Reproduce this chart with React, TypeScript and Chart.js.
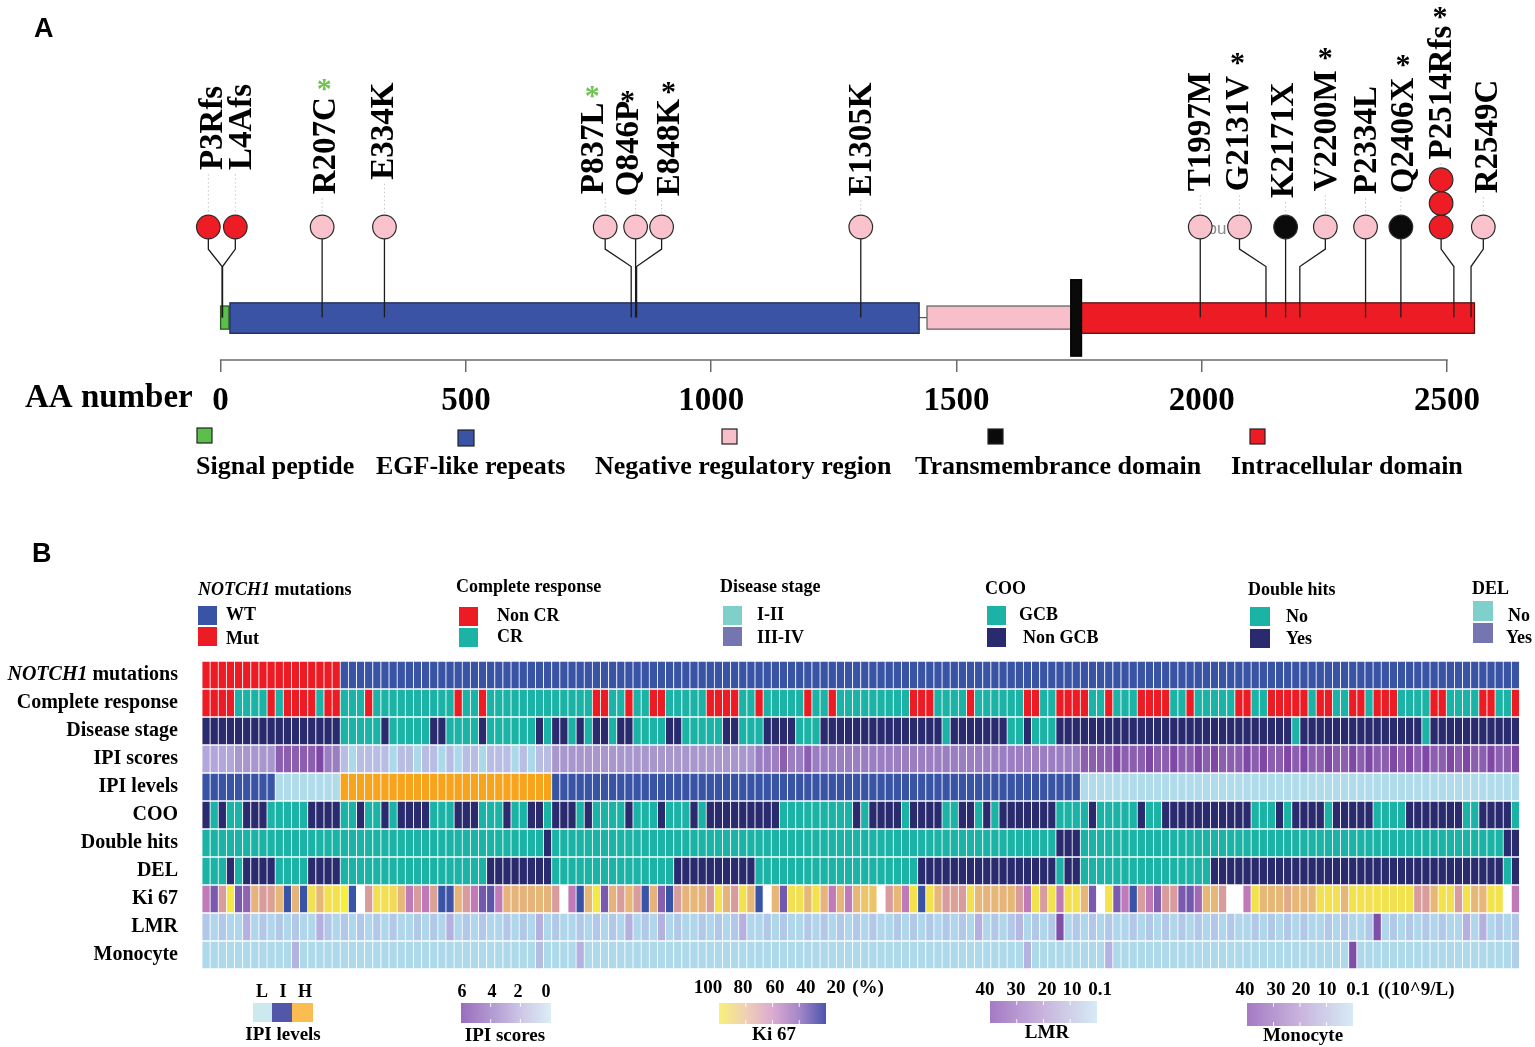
import React, { useEffect, useRef } from "react";
import { Chart, registerables } from "chart.js";

Chart.register(...registerables);

const SERIF = '"Liberation Serif", "Times New Roman", Times, serif';
const SANS = '"Liberation Sans", Arial, Helvetica, sans-serif';

/* ===================== Panel A data ===================== */
const mutationNames = ["P3Rfs", "L4Afs", "R207C", "E334K", "P837L", "Q846P", "E848K", "E1305K", "T1997M", "G2131V", "K2171X", "V2200M", "P2334L", "Q2406X", "P2514Rfs", "R2549C"];
const mutationAA = [3, 4, 207, 334, 837, 846, 848, 1305, 1997, 2131, 2171, 2200, 2334, 2406, 2514, 2549];
const mutationClass = ["frameshift", "frameshift", "missense", "missense", "missense", "missense", "missense", "missense", "missense", "missense", "nonsense", "missense", "missense", "nonsense", "frameshift", "missense"];
const mutationCount = [1, 1, 1, 1, 1, 1, 1, 1, 1, 1, 1, 1, 1, 1, 3, 1];
const mutationMark = ["", "", "green", "", "green", "black", "black", "", "", "black", "", "black", "", "black", "black", ""];

const domainNames = ["Signal peptide", "EGF-like repeats", "Negative regulatory region", "Transmembrance domain", "Intracellular domain"];
const domainStart = [0, 19, 1440, 1733, 1753];
const domainEnd = [17, 1424, 1736, 1755, 2556];
const axisTicks = [0, 500, 1000, 1500, 2000, 2500];

/* ---- Panel A layout (not data) ---- */
const circleAA = [-25, 30, 207, 334, 784, 846, 899, 1305, 1997, 2077, 2171, 2252, 2334, 2406, 2488, 2574];
const labelBase = [19.7, 19.7, 17.2, 18.7, 17.2, 17.0, 17.0, 17.0, 17.5, 17.5, 16.8, 17.5, 17.2, 17.3, 20.8, 17.3];
const labelShiftPx = [5, 7, 4, 0, -11, -6, 9, 2, 1, 0, -1, 2, 2, 4, 1, 5];
const starGapPx = [0, 0, 13, 0, 12, 5, 12, 0, 0, 18, 0, 17, 0, 18, 14, 0];
const CIRCLE_LEVEL = 13.8;
const STACK_STEP = 2.45;
const BEND_TOP = 11.5;
const BEND_LOW = 9.7;
const BAR_MID = 4.4;
const X_VIEW_MIN = -60;
const X_VIEW_MAX = 2600;
const AXIS_LEFT_PX = 220.6;
const AXIS_RIGHT_PX = 1447;
const domainTop = [5.6, 5.93, 5.6, 8.33, 5.93];
const domainBottom = [3.2, 2.77, 3.2, 0.4, 2.77];
const domainFill = ["#5cbf4b", "#3a53a5", "#f8bfcb", "#0a0a0a", "#ed1c24"];
const domainEdge = ["#2a5a20", "#1d2a5c", "#666666", "#000000", "#5a1010"];
const classColor: Record<string, string> = { frameshift: "#ee1d25", missense: "#f9c2cd", nonsense: "#0b0b0b" };

/* ===================== Panel B data ===================== */
const rowNames = ["NOTCH1 mutations", "Complete response", "Disease stage", "IPI scores", "IPI levels", "COO", "Double hits", "DEL", "Ki 67", "LMR", "Monocyte"];

const notch1Status = [
  "MMMMMMMMMM", "MMMMMMMWWW", "WWWWWWWWWW", "WWWWWWWWWW", "WWWWWWWWWW", "WWWWWWWWWW",
  "WWWWWWWWWW", "WWWWWWWWWW", "WWWWWWWWWW", "WWWWWWWWWW", "WWWWWWWWWW", "WWWWWWWWWW",
  "WWWWWWWWWW", "WWWWWWWWWW", "WWWWWWWWWW", "WWWWWWWWWW", "WW",
].join("").split("");

const completeResponse = [
  "RRRRCCCCRC", "RRRRCRRCCC", "RCCCCCCCCC", "CRCCRCCCCC", "CCCCCCCCRR", "CCRCCRRCCC",
  "CCRRRRCCRC", "CCCCRCCRCC", "CCCCCCCRRR", "CCCCRCCCCC", "CRRCCRRRRC", "CRCCCRRRRC",
  "CRCCCCCRRC", "CRRRRRCRRC", "CRRCRRRCCC", "CRRCCCCRRC", "CR",
].join("").split("");

const diseaseStage = [
  "NNNNNNNNNN", "NNNNNNNTTT", "TTNTTTTTNN", "TTTTNTTTTT", "TNTNNTNTNN", "TNNTTTTNNT",
  "TTTTNNTTTN", "NNNTTTNNNN", "NNNNNNNNNN", "NTNNNNNNNT", "TNTTTNNNNN", "NNNNNNNNNN",
  "NNNNNNNNNN", "NNNNTNNNNN", "NNNNNNNNNN", "TNNNNNNNNN", "NN",
].join("").split("");

const ipiScores = [
  "2222333335", "5555644101", "1110110110", "1011011101", "0113333333", "3333333333",
  "3333333344", "4544544444", "4444444444", "4444444444", "4444444455", "5565556556",
  "5565655565", "6556565565", "5656556565", "6556565565", "56",
].join("").split("").map(Number);

const ipiLevels = [
  "IIIIIIIIIL", "LLLLLLLHHH", "HHHHHHHHHH", "HHHHHHHHHH", "HHHIIIIIII", "IIIIIIIIII",
  "IIIIIIIIII", "IIIIIIIIII", "IIIIIIIIII", "IIIIIIIIII", "IIIIIIIILL", "LLLLLLLLLL",
  "LLLLLLLLLL", "LLLLLLLLLL", "LLLLLLLLLL", "LLLLLLLLLL", "LL",
].join("").split("");

const cellOfOrigin = [
  "NGNGGNNNGG", "GGGNNNNGGN", "GGNGNNNNGG", "GNNNGGGNGG", "NNGNNNGNGG", "GGNGGGNGGG",
  "NGNNNNNNNN", "NGGGGGGGGG", "NGNNNNGNNN", "NGGNNGNGNN", "NNNNNGGGGN", "GGGGGNGGNN",
  "NNNNNNNNNG", "GGNGNNNNGN", "NNNNGGGGNN", "NNNNNGGNNN", "NG",
].join("").split("");

const doubleHits = [
  "NNNNNNNNNN", "NNNNNNNNNN", "NNNNNNNNNN", "NNNNNNNNNN", "NNYNNNNNNN", "NNNNNNNNNN",
  "NNNNNNNNNN", "NNNNNNNNNN", "NNNNNNNNNN", "NNNNNNNNNN", "NNNNNYYYNN", "NNNNNNNNNN",
  "NNNNNNNNNN", "NNNNNNNNNN", "NNNNNNNNNN", "NNNNNNNNNN", "YY",
].join("").split("");

const doubleExpressor = [
  "NNNYNYYYYN", "NNNYYYYNNN", "NNNNNNNNNN", "NNNNNYYYYY", "YYYNNNNNNN", "NNNNNNNNYY",
  "YYYYYYYYNN", "NNNNNNNNNN", "NNNNNNNNYY", "YYYYYYYYYY", "YYYYYNYYNN", "NNNNNNNNNN",
  "NNNNYYYYYY", "YYYYYYYYYY", "YYYYYYYYYY", "YYYYYYYYYY", "NY",
].join("").split("");

const ki67 = [
  50, 38, 60, 95, 38, 42, 70, 60, 62, 72,
  20, 70, 20, 90, 72, 90, 92, 100, 20, null,
  60, 90, 90, 88, 72, 50, 60, 50, 62, 20,
  22, 70, 60, 50, 36, 30, 50, 70, 70, 70,
  70, 72, 70, 60, null, 50, 20, 72, 95, 38,
  70, 60, 72, 60, 20, 70, 40, 20, 60, 70,
  72, 70, 60, 92, 70, 60, 92, 72, 20, null,
  72, 36, 90, 90, 72, 92, 70, 50, 70, 50,
  72, 80, 80, null, 60, 72, 50, 92, 20, 92,
  72, 60, 62, 60, 90, 72, 70, 72, 70, 72,
  60, 50, 92, 60, 92, 50, 90, 92, 72, 38,
  null, 92, 38, 50, 20, 60, 50, 40, 60, 60,
  38, 36, 45, 72, 72, 60, null, null, 50, 92,
  72, 72, 72, 66, 72, 72, 72, 90, 92, 90,
  72, 92, 92, 90, 92, 92, 90, 92, 92, 60,
  60, 72, 92, 90, 60, 92, 72, 72, 92, 92,
  null, 50,
];

const lmr = [
  5, 2, 5, 2, 2, 10, 2, 5, 2, 5,
  2, 5, 2, 2, 10, 5, 2, 5, 2, 5,
  2, 5, 2, 5, 2, 2, 5, 2, 5, 2,
  10, 2, 5, 2, 5, 2, 2, 5, 2, 5,
  2, 10, 2, 5, 2, 2, 5, 2, 5, 2,
  5, 2, 10, 2, 5, 2, 10, 2, 5, 2,
  2, 5, 2, 5, 2, 5, 10, 2, 2, 5,
  2, 5, 2, 2, 5, 2, 5, 2, 5, 2,
  5, 2, 5, 2, 2, 5, 2, 5, 2, 5,
  2, 5, 2, 5, 2, 10, 2, 5, 2, 5,
  8, 2, 5, 2, 5, 35, 2, 5, 2, 5,
  2, 5, 2, 2, 5, 2, 5, 2, 5, 2,
  5, 2, 5, 2, 5, 2, 5, 2, 2, 5,
  2, 5, 2, 5, 2, 5, 2, 2, 5, 2,
  5, 2, 2, 5, 35, 2, 5, 2, 5, 2,
  5, 2, 5, 2, 2, 10, 2, 10, 2, 5,
  2, 5,
];

const monocyte = [
  1, 1, 1, 1, 1, 1, 1, 1, 1, 1,
  1, 8, 1, 1, 1, 1, 1, 1, 1, 1,
  1, 1, 1, 1, 1, 1, 1, 1, 1, 1,
  1, 1, 1, 1, 1, 1, 1, 1, 1, 1,
  1, 6, 1, 1, 1, 1, 8, 1, 1, 1,
  1, 1, 1, 1, 1, 1, 1, 1, 1, 1,
  1, 1, 1, 1, 1, 1, 1, 1, 1, 1,
  1, 1, 1, 1, 1, 1, 1, 1, 1, 1,
  1, 1, 1, 1, 1, 1, 1, 1, 1, 1,
  1, 1, 1, 1, 1, 1, 1, 1, 1, 1,
  1, 8, 1, 1, 1, 1, 1, 1, 1, 1,
  1, 8, 1, 1, 1, 1, 1, 1, 1, 1,
  1, 1, 1, 1, 1, 1, 1, 1, 1, 1,
  1, 1, 1, 1, 1, 1, 1, 1, 1, 1,
  1, 35, 1, 1, 1, 1, 1, 1, 1, 1,
  1, 1, 1, 1, 1, 1, 1, 1, 1, 1,
  1, 3,
];

const sampleIds = notch1Status.map((_, i) => "S" + (i + 1));

/* ===================== colours ===================== */
const RED = "#ed1c24";
const BLUE = "#3a54a5";
const TEAL = "#1bb3a6";
const NAVY = "#2a2b6e";
const LIGHT_TEAL = "#7fcfcb";
const SLATE = "#7575b1";

const ipiScoreStops: [number, string][] = [[0, "#acd9ea"], [1, "#b7bde3"], [2, "#b2a6da"], [3, "#a897cd"], [4, "#9b7ec2"], [5, "#8b5eb0"], [6, "#8048a6"]];
const ki67Stops: [number, string][] = [[20, "#3953a6"], [30, "#5e55ab"], [38, "#7a5aae"], [45, "#a06ab4"], [50, "#c07ab8"], [60, "#d99c9c"], [70, "#e6b47a"], [80, "#ecc56a"], [90, "#f3df52"], [100, "#f7f03a"]];
const lmrStops: [number, string][] = [[0, "#acdaea"], [2, "#afd6ea"], [5, "#b2c8e8"], [8, "#b4b8e2"], [10, "#b4b0e0"], [20, "#a28acb"], [35, "#7e4ea8"]];
const monoStops: [number, string][] = [[0, "#acdaea"], [1, "#aed9ea"], [3, "#b0d0e9"], [6, "#b3bde4"], [8, "#b4b2e0"], [20, "#a28acb"], [35, "#7e4ea8"]];

function hexToRgb(h: string) {
  const n = parseInt(h.slice(1), 16);
  return [(n >> 16) & 255, (n >> 8) & 255, n & 255];
}
function ramp(stops: [number, string][], v: number) {
  if (v <= stops[0][0]) return stops[0][1];
  for (let i = 1; i < stops.length; i++) {
    if (v <= stops[i][0]) {
      const [v0, c0] = stops[i - 1];
      const [v1, c1] = stops[i];
      const t = (v - v0) / (v1 - v0);
      const a = hexToRgb(c0);
      const b = hexToRgb(c1);
      return `rgb(${Math.round(a[0] + (b[0] - a[0]) * t)},${Math.round(a[1] + (b[1] - a[1]) * t)},${Math.round(a[2] + (b[2] - a[2]) * t)})`;
    }
  }
  return stops[stops.length - 1][1];
}

const rowColors = [
  notch1Status.map((v) => (v === "M" ? RED : BLUE)),
  completeResponse.map((v) => (v === "R" ? RED : TEAL)),
  diseaseStage.map((v) => (v === "T" ? TEAL : NAVY)),
  ipiScores.map((v) => ramp(ipiScoreStops, v)),
  ipiLevels.map((v) => (v === "L" ? "#b0dbea" : v === "I" ? BLUE : "#f8a31c")),
  cellOfOrigin.map((v) => (v === "G" ? TEAL : NAVY)),
  doubleHits.map((v) => (v === "Y" ? NAVY : TEAL)),
  doubleExpressor.map((v) => (v === "Y" ? NAVY : TEAL)),
  ki67.map((v) => (v === null ? "rgba(255,255,255,0)" : ramp(ki67Stops, v))),
  lmr.map((v) => ramp(lmrStops, v)),
  monocyte.map((v) => ramp(monoStops, v)),
];

/* ===================== Panel A plugins ===================== */
const domainLayer = {
  id: "domainLayer",
  beforeDatasetsDraw(chart: any) {
    const { ctx, scales, chartArea } = chart;
    const x = scales.x;
    const y = scales.y;
    ctx.save();
    ctx.strokeStyle = "#6a6a6a";
    ctx.lineWidth = 1.5;
    ctx.beginPath();
    ctx.moveTo(x.getPixelForValue(axisTicks[0]) - 0.75, chartArea.bottom);
    ctx.lineTo(x.getPixelForValue(axisTicks[axisTicks.length - 1]) + 0.75, chartArea.bottom);
    ctx.stroke();
    ctx.strokeStyle = "#555";
    ctx.lineWidth = 1.2;
    ctx.beginPath();
    ctx.moveTo(x.getPixelForValue(domainEnd[1]), y.getPixelForValue(BAR_MID));
    ctx.lineTo(x.getPixelForValue(domainStart[2]), y.getPixelForValue(BAR_MID));
    ctx.stroke();
    [0, 1, 2, 4, 3].forEach((i) => {
      const x0 = x.getPixelForValue(domainStart[i]);
      const x1 = x.getPixelForValue(domainEnd[i]);
      const y0 = y.getPixelForValue(domainTop[i]);
      const y1 = y.getPixelForValue(domainBottom[i]);
      ctx.fillStyle = domainFill[i];
      ctx.fillRect(x0, y0, x1 - x0, y1 - y0);
      ctx.strokeStyle = domainEdge[i];
      ctx.lineWidth = 1.3;
      ctx.strokeRect(x0, y0, x1 - x0, y1 - y0);
    });
    ctx.fillStyle = "#8a8a8a";
    ctx.font = `17px ${SANS}`;
    ctx.textBaseline = "middle";
    ctx.textAlign = "left";
    ctx.fillText("bu", x.getPixelForValue(2012), y.getPixelForValue(CIRCLE_LEVEL) + 2);
    ctx.restore();
  },
};

const legendA = [
  { sx: 197, sy: 428, s: 15, lx: 196 },
  { sx: 458, sy: 430, s: 16, lx: 376 },
  { sx: 722, sy: 429, s: 15, lx: 595 },
  { sx: 988, sy: 429, s: 15, lx: 915 },
  { sx: 1250, sy: 429, s: 15, lx: 1231 },
];

const lollipopText = {
  id: "lollipopText",
  afterDatasetsDraw(chart: any) {
    const { ctx, scales } = chart;
    const x = scales.x;
    const y = scales.y;
    ctx.save();
    mutationNames.forEach((name, i) => {
      const cx = x.getPixelForValue(circleAA[i]);
      const lx = cx + labelShiftPx[i];
      const baseY = y.getPixelForValue(labelBase[i]);
      const topCircle = y.getPixelForValue(CIRCLE_LEVEL + (mutationCount[i] - 1) * STACK_STEP) - 12;
      if (topCircle - baseY > 8) {
        ctx.setLineDash([1.5, 2.5]);
        ctx.strokeStyle = "#c4c4c4";
        ctx.lineWidth = 1;
        ctx.beginPath();
        ctx.moveTo(cx, baseY + 4);
        ctx.lineTo(cx, topCircle - 2);
        ctx.stroke();
        ctx.setLineDash([]);
      }
      ctx.font = `bold 33px ${SERIF}`;
      ctx.fillStyle = "#000";
      ctx.save();
      ctx.translate(lx, baseY);
      ctx.rotate(-Math.PI / 2);
      ctx.textAlign = "left";
      ctx.textBaseline = "middle";
      ctx.fillText(name, 0, 0);
      ctx.restore();
      if (mutationMark[i]) {
        const w = ctx.measureText(name).width;
        const sy = baseY - w - starGapPx[i];
        ctx.font = `bold 30px ${SERIF}`;
        ctx.fillStyle = mutationMark[i] === "green" ? "#72c152" : "#000";
        ctx.textAlign = "center";
        ctx.textBaseline = "alphabetic";
        ctx.fillText("*", lx - 2, sy + 14);
      }
    });
    ctx.restore();
  },
  afterDraw(chart: any) {
    const { ctx } = chart;
    ctx.save();
    ctx.fillStyle = "#000";
    ctx.font = `bold 27px ${SANS}`;
    ctx.textBaseline = "middle";
    ctx.textAlign = "left";
    ctx.fillText("A", 34, 30);
    ctx.font = `bold 33px ${SERIF}`;
    ctx.fillText("AA number", 25, 398);
    legendA.forEach((g, i) => {
      ctx.fillStyle = domainFill[i];
      ctx.fillRect(g.sx, g.sy, g.s, g.s);
      ctx.strokeStyle = "#222";
      ctx.lineWidth = 1.2;
      ctx.strokeRect(g.sx, g.sy, g.s, g.s);
      ctx.fillStyle = "#000";
      ctx.font = `bold 26px ${SERIF}`;
      ctx.textBaseline = "middle";
      ctx.fillText(domainNames[i], g.lx, 467);
    });
    ctx.restore();
  },
};

/* ===================== Panel B plugin ===================== */
const B_TOP = 520;
const topLegend = [
  { italic: "NOTCH1", title: " mutations", tx: 198, ty: 590, sx: 198, sy: [606, 627], sw: 19, sh: 19, lx: [226, 226], ly: [615, 639], labels: ["WT", "Mut"], colors: [BLUE, RED] },
  { italic: "", title: "Complete response", tx: 456, ty: 587, sx: 459, sy: [607, 628], sw: 19, sh: 19, lx: [497, 497], ly: [616, 637], labels: ["Non CR", "CR"], colors: [RED, TEAL] },
  { italic: "", title: "Disease stage", tx: 720, ty: 587, sx: 723, sy: [606, 627], sw: 19, sh: 19, lx: [757, 757], ly: [615, 638], labels: ["I-II", "III-IV"], colors: [LIGHT_TEAL, SLATE] },
  { italic: "", title: "COO", tx: 985, ty: 589, sx: 987, sy: [606, 628], sw: 19, sh: 19, lx: [1019, 1023], ly: [615, 638], labels: ["GCB", "Non GCB"], colors: [TEAL, NAVY] },
  { italic: "", title: "Double hits", tx: 1248, ty: 590, sx: 1250, sy: [607, 629], sw: 20, sh: 19, lx: [1286, 1286], ly: [617, 639], labels: ["No", "Yes"], colors: [TEAL, NAVY] },
  { italic: "", title: "DEL", tx: 1472, ty: 589, sx: 1473, sy: [601, 623], sw: 20, sh: 20, lx: [1508, 1506], ly: [616, 638], labels: ["No", "Yes"], colors: [LIGHT_TEAL, SLATE] },
];

function gradBar(ctx: CanvasRenderingContext2D, x0: number, y0: number, x1: number, y1: number, stops: [number, string][], marks: number[]) {
  const g = ctx.createLinearGradient(x0, 0, x1, 0);
  stops.forEach(([t, c]) => g.addColorStop(t, c));
  ctx.fillStyle = g;
  ctx.fillRect(x0, y0, x1 - x0, y1 - y0);
  ctx.strokeStyle = "rgba(255,255,255,0.9)";
  ctx.lineWidth = 1;
  marks.forEach((t) => {
    const mx = x0 + (x1 - x0) * t;
    ctx.beginPath();
    ctx.moveTo(mx, y0);
    ctx.lineTo(mx, y0 + 4);
    ctx.moveTo(mx, y1 - 4);
    ctx.lineTo(mx, y1);
    ctx.stroke();
  });
}

const heatmapText = {
  id: "heatmapText",
  afterDraw(chart: any) {
    const { ctx, scales } = chart;
    const y = scales.y;
    ctx.save();
    ctx.fillStyle = "#000";
    ctx.textBaseline = "middle";
    ctx.textAlign = "left";
    ctx.font = `bold 27px ${SANS}`;
    ctx.fillText("B", 32, 555 - B_TOP);

    rowNames.forEach((name, i) => {
      const cy = y.getPixelForValue(i + 0.5);
      ctx.textAlign = "right";
      ctx.fillStyle = "#000";
      if (i === 0) {
        ctx.font = `bold 20px ${SERIF}`;
        const rest = " mutations";
        const w = ctx.measureText(rest).width;
        ctx.fillText(rest, 178, cy);
        ctx.font = `italic bold 20px ${SERIF}`;
        ctx.fillText("NOTCH1", 178 - w, cy);
      } else {
        ctx.font = `bold 20px ${SERIF}`;
        ctx.fillText(name, 178, cy);
      }
    });

    ctx.textAlign = "left";
    topLegend.forEach((g) => {
      ctx.fillStyle = "#000";
      let tx = g.tx;
      if (g.italic) {
        ctx.font = `italic bold 18px ${SERIF}`;
        ctx.fillText(g.italic, tx, g.ty - B_TOP);
        tx += ctx.measureText(g.italic).width;
      }
      ctx.font = `bold 18px ${SERIF}`;
      ctx.fillText(g.title, tx, g.ty - B_TOP);
      g.labels.forEach((lab, k) => {
        ctx.fillStyle = g.colors[k];
        ctx.fillRect(g.sx, g.sy[k] - B_TOP, g.sw, g.sh);
        ctx.fillStyle = "#000";
        ctx.font = `bold 18px ${SERIF}`;
        ctx.fillText(lab, g.lx[k], g.ly[k] - B_TOP);
      });
    });

    const T = (v: number) => v - B_TOP;
    ctx.font = `bold 18px ${SERIF}`;
    ctx.textAlign = "center";
    ctx.fillStyle = "#000";
    [["L", 262], ["I", 283], ["H", 305]].forEach(([t, x]) => ctx.fillText(t as string, x as number, T(992)));
    ctx.fillStyle = "#cde9f0";
    ctx.fillRect(253, T(1003), 19, 19);
    ctx.fillStyle = "#5357a9";
    ctx.fillRect(272, T(1003), 20, 19);
    ctx.fillStyle = "#fbbd52";
    ctx.fillRect(292, T(1003), 21, 19);
    ctx.fillStyle = "#000";
    ctx.font = `bold 19px ${SERIF}`;
    ctx.fillText("IPI levels", 283, T(1035));

    ctx.font = `bold 18px ${SERIF}`;
    [["6", 462], ["4", 492], ["2", 518], ["0", 546]].forEach(([t, x]) => ctx.fillText(t as string, x as number, T(992)));
    gradBar(ctx, 461, T(1003), 551, T(1023), [[0, "#9a6dbd"], [0.35, "#b39ad2"], [0.7, "#cfcbe8"], [1, "#dcedf5"]], [0.33, 0.66]);
    ctx.fillStyle = "#000";
    ctx.font = `bold 19px ${SERIF}`;
    ctx.fillText("IPI scores", 505, T(1036));

    ctx.font = `bold 19px ${SERIF}`;
    [["100", 708], ["80", 743], ["60", 775], ["40", 806], ["20", 836], ["(%)", 868]].forEach(([t, x]) => ctx.fillText(t as string, x as number, T(988)));
    gradBar(ctx, 719, T(1003), 826, T(1024), [[0, "#f8f07a"], [0.25, "#f0d0b4"], [0.5, "#dcaad2"], [0.75, "#a487c8"], [1, "#4c55ad"]], [0.25, 0.5, 0.75]);
    ctx.fillStyle = "#000";
    ctx.fillText("Ki 67", 774, T(1035));

    [["40", 985], ["30", 1016], ["20", 1047], ["10", 1072], ["0.1", 1100]].forEach(([t, x]) => ctx.fillText(t as string, x as number, T(990)));
    gradBar(ctx, 990, T(1001), 1097, T(1023), [[0, "#a47ac4"], [0.5, "#c9b4dd"], [1, "#d6ebf5"]], [0.25, 0.5, 0.75]);
    ctx.fillStyle = "#000";
    ctx.fillText("LMR", 1047, T(1033));

    [["40", 1245], ["30", 1276], ["20", 1301], ["10", 1327], ["0.1", 1358]].forEach(([t, x]) => ctx.fillText(t as string, x as number, T(990)));
    ctx.textAlign = "left";
    ctx.fillText("((10^9/L)", 1378, T(990));
    ctx.textAlign = "center";
    gradBar(ctx, 1247, T(1003), 1353, T(1026), [[0, "#a47ac4"], [0.5, "#c9b4dd"], [1, "#d6ebf5"]], [0.25, 0.5, 0.75]);
    ctx.fillStyle = "#000";
    ctx.fillText("Monocyte", 1303, T(1036));
    ctx.restore();
  },
};

/* ===================== App ===================== */
export default function App() {
  const refA = useRef<HTMLCanvasElement | null>(null);
  const refB = useRef<HTMLCanvasElement | null>(null);

  useEffect(() => {
    const circlePoints: { x: number; y: number }[] = [];
    const circleColors: string[] = [];
    mutationNames.forEach((_, i) => {
      for (let k = 0; k < mutationCount[i]; k++) {
        circlePoints.push({ x: circleAA[i], y: CIRCLE_LEVEL + k * STACK_STEP });
        circleColors.push(classColor[mutationClass[i]]);
      }
    });
    const stemSets = mutationNames.map((name, i) => ({
      type: "line" as const,
      label: name,
      data: [
        { x: circleAA[i], y: CIRCLE_LEVEL },
        { x: circleAA[i], y: BEND_TOP },
        { x: mutationAA[i], y: BEND_LOW },
        { x: mutationAA[i], y: BAR_MID },
      ],
      borderColor: "#1c1c1c",
      borderWidth: 1.3,
      pointRadius: 0,
      fill: false,
      tension: 0,
      clip: false as any,
    }));

    // pixel scale fixed by the 0..2500 axis; the view extends slightly beyond both ends
    const pxPerAA = (AXIS_RIGHT_PX - AXIS_LEFT_PX) / (axisTicks[axisTicks.length - 1] - axisTicks[0]);
    const leftPad = AXIS_LEFT_PX + X_VIEW_MIN * pxPerAA;
    const rightPad = 1535 - (AXIS_LEFT_PX + X_VIEW_MAX * pxPerAA);

    const chartA = new Chart(refA.current as HTMLCanvasElement, {
      type: "scatter",
      data: {
        datasets: [
          {
            type: "scatter" as const,
            label: "mutations",
            data: circlePoints,
            backgroundColor: circleColors,
            borderColor: "#2a2a2a",
            borderWidth: 1.2,
            pointRadius: 11.8,
            pointHoverRadius: 11.8,
            clip: false as any,
          },
          ...stemSets,
        ] as any,
      },
      options: {
        animation: false,
        responsive: false,
        events: [],
        layout: { padding: { left: leftPad, right: rightPad, top: 0, bottom: 98 } },
        plugins: { legend: { display: false }, tooltip: { enabled: false } },
        scales: {
          x: {
            type: "linear",
            min: X_VIEW_MIN,
            max: X_VIEW_MAX,
            position: "bottom",
            afterBuildTicks: (s: any) => {
              s.ticks = axisTicks.map((v) => ({ value: v }));
            },
            afterFit: (s: any) => {
              s.height = 62;
            },
            ticks: {
              font: { family: SERIF, size: 33, weight: "bold" },
              color: "#000",
              padding: 10,
              maxRotation: 0,
              autoSkip: false,
              callback: (v: any) => String(v),
            },
            grid: { drawOnChartArea: false, drawTicks: true, tickLength: 12, color: "#6a6a6a", lineWidth: 1.5 },
            border: { display: false },
          },
          y: { type: "linear", min: 0, max: 36, display: false },
        },
      } as any,
      plugins: [domainLayer, lollipopText],
    });

    const chartB = new Chart(refB.current as HTMLCanvasElement, {
      type: "bar",
      data: {
        labels: sampleIds,
        datasets: rowColors.map((colors, i) => ({
          label: rowNames[i],
          data: sampleIds.map(() => [i, i + 1]),
          backgroundColor: colors,
          borderColor: "#ffffff",
          borderWidth: { top: 1.2, bottom: 1.2, left: 0.75, right: 0.75 },
          borderSkipped: false,
          grouped: false,
          barPercentage: 1,
          categoryPercentage: 1,
        })) as any,
      },
      options: {
        animation: false,
        responsive: false,
        events: [],
        layout: { padding: { left: 202, right: 15.5, top: 141, bottom: 78 } },
        plugins: { legend: { display: false }, tooltip: { enabled: false } },
        scales: {
          x: { type: "category", display: false, offset: true },
          y: { type: "linear", display: false, min: 0, max: 11, reverse: true },
        },
      } as any,
      plugins: [heatmapText],
    });

    return () => {
      chartA.destroy();
      chartB.destroy();
    };
  }, []);

  return (
    <div style={{ position: "absolute", left: 0, top: 0, width: 1535, height: 1047, background: "#ffffff", overflow: "hidden" }}>
      <canvas ref={refA} width={1535} height={520} style={{ position: "absolute", left: 0, top: 0, width: 1535, height: 520 }} />
      <canvas ref={refB} width={1535} height={527} style={{ position: "absolute", left: 0, top: 520, width: 1535, height: 527 }} />
    </div>
  );
}
